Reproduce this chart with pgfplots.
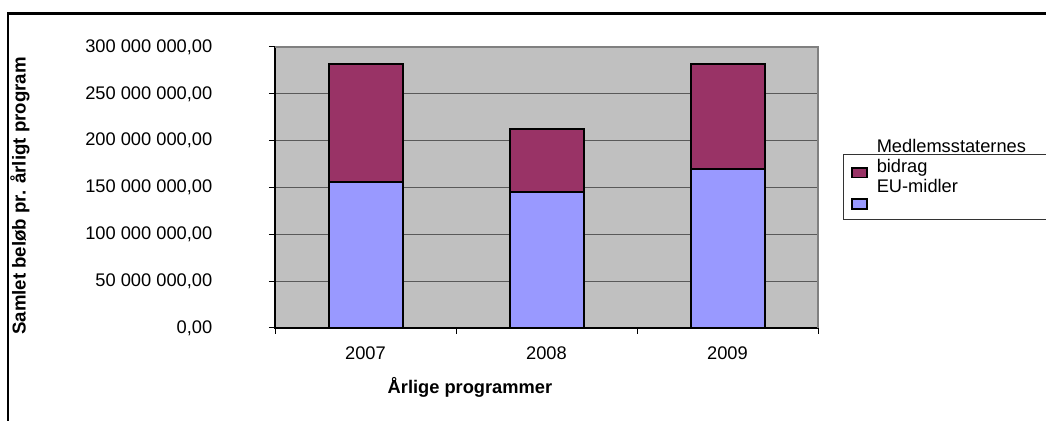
\documentclass[border=0pt]{standalone}
\usepackage{pgfplots}
\pgfplotsset{compat=1.18}
\usepackage{fontspec}
\setmainfont{Liberation Sans}
\definecolor{plotbg}{HTML}{C0C0C0}
\definecolor{eucol}{HTML}{9999FF}
\definecolor{bidcol}{HTML}{993366}
\definecolor{frame}{HTML}{808080}
\newcommand{\fs}{\fontsize{13.7}{16}\selectfont}
\begin{document}
\begin{tikzpicture}
\useasboundingbox (0,0) rectangle (784.5pt,315.75pt);
\begin{axis}[
  at={(206.25pt,69.75pt)}, anchor=south west,
  scale only axis, width=407.25pt, height=210.75pt,
  xmin=0, xmax=3, ymin=0, ymax=300000000,
  ybar stacked, bar width=55.5pt,
  xtick={0,1,2,3}, xticklabels={2007,2008,2009},
  x tick label as interval,
  xtick pos=bottom, ytick pos=left,
  ytick={0,50000000,100000000,150000000,200000000,250000000,300000000},
  scaled y ticks=false,
  yticklabel={\pgfmathprintnumber[fixed,precision=2,zerofill,use comma,1000 sep={\ },assume math mode=true]{\tick}},
  /pgf/number format/assume math mode=true,
  tick align=outside, major tick length=4.5pt,
  tick style={black, line width=0.75pt},
  ymajorgrids, grid style={black!65, line width=0.9pt},
  axis line style={draw=none},
  axis background/.style={fill=plotbg},
  tick label style={font=\fs},
  yticklabel style={xshift=-39pt},
  xticklabel style={yshift=-6pt},
  xlabel={\textbf{Årlige programmer}},
  ylabel={\textbf{Samlet beløb pr. årligt program}},
  every axis x label/.style={at={(rel axis cs:0.359,-0.210)}, anchor=center, font=\fs},
  every axis y label/.style={at={(rel axis cs:-0.4696,0.4698)}, rotate=90, anchor=center, font=\fontsize{14}{16}\selectfont},
  clip=false,
]
\draw[frame, line width=1.5pt] (rel axis cs:0,1) -- (rel axis cs:1,1) -- (rel axis cs:1,0);
\addplot[fill=eucol, draw=black, line width=1.5pt] coordinates {(0.5,155500000) (1.5,144900000) (2.5,169700000)};
\addplot[fill=bidcol, draw=black, line width=1.5pt] coordinates {(0.5,126500000) (1.5,67100000) (2.5,112300000)};
\draw[black, line width=0.9pt] (rel axis cs:0,1) -- (rel axis cs:0,0) -- (rel axis cs:1,0);
\end{axis}
\begin{scope}[x=0.75pt, y=-0.75pt, yshift=315.75pt]
  \draw[black, line width=1.6pt] (8,421) -- (8,13.5) -- (1047,13.5);
  \draw[black!80, line width=0.75pt] (1047,155) -- (843.5,155) -- (843.5,219.3) -- (1047,219.3);
  \node[anchor=base west, inner sep=0, font=\fs] at (876.5,153) {Medlemsstaternes};
  \node[anchor=base west, inner sep=0, font=\fs] at (876.5,173) {bidrag};
  \node[anchor=base west, inner sep=0, font=\fs] at (876.5,193) {EU-midler};
  \draw[fill=bidcol, draw=black, line width=1.2pt] (852,168) rectangle (867,177.5);
  \draw[fill=eucol, draw=black, line width=1.2pt] (852,199) rectangle (867,209);
\end{scope}
\end{tikzpicture}
\end{document}
